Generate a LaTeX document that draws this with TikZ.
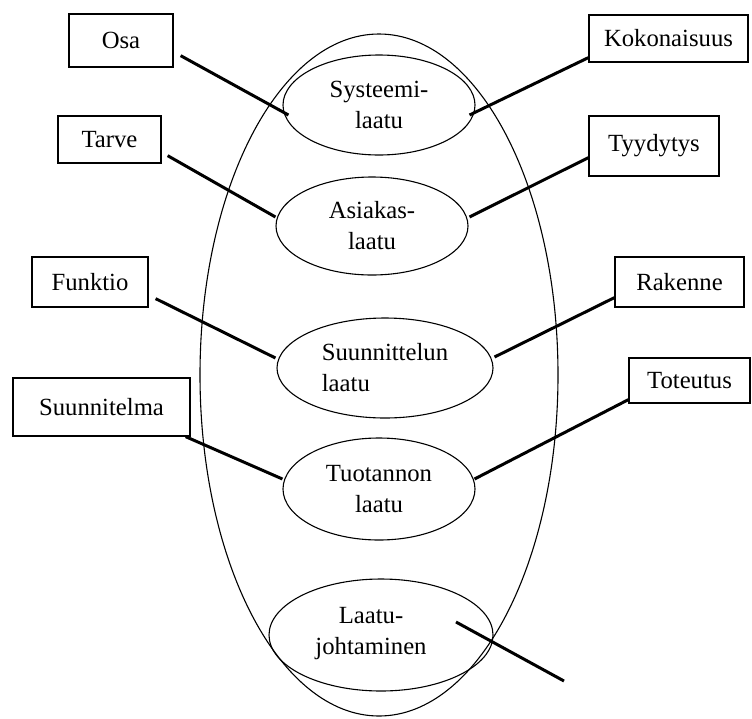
\documentclass[tikz,border=0pt]{standalone}
\usepackage{fontspec}
\setmainfont{Liberation Serif}
\usetikzlibrary{shapes.geometric}
\begin{document}
\begin{tikzpicture}[x=1pt,y=-1pt,
  txt/.style={font=\fontsize{24.7}{31}\selectfont,inner sep=0pt},
  box/.style={draw,line width=1.3pt,txt},
  oval/.style={draw,ellipse,line width=1.1pt,txt,align=center},
  conn/.style={line width=3pt}]
\useasboundingbox (0,0) rectangle (752,718);
% outer ellipse
\node[oval,minimum width=358pt,minimum height=682pt] (outer) at (379,375) {};
% inner ellipses
\node[oval,minimum width=192pt,minimum height=100pt] (sys) at (379,105) {Systeemi-\\laatu};
\node[oval,minimum width=192pt,minimum height=98pt] (asi) at (372,226) {Asiakas-\\laatu};
\node[oval,minimum width=216pt,minimum height=100pt,align=left] (suu) at (385,368) {Suunnittelun\\laatu};
\node[oval,minimum width=192pt,minimum height=102pt] (tuo) at (379,489) {Tuotannon\\laatu};
\node[oval,minimum width=224pt,minimum height=112pt] (lj) at (381,635) {};
\node[txt,align=center] (ljt) at (371,634) {Laatu-\\johtaminen};
% boxes
\node[box,minimum width=104pt,minimum height=53pt] (osa) at (121,40.5) {Osa};
\node[box,minimum width=103pt,minimum height=47pt] (tar) at (109.5,139.5) {Tarve};
\node[box,minimum width=116pt,minimum height=50pt] (fun) at (90,282) {Funktio};
\node[box,minimum width=177pt,minimum height=58pt] (sun) at (101.5,407) {Suunnitelma};
\node[box,minimum width=159pt,minimum height=47pt] (kok) at (668.5,38.5) {Kokonaisuus};
\node[box,minimum width=130pt,minimum height=60pt] (tyy) at (654,146) {Tyydytys};
\node[box,minimum width=129pt,minimum height=50pt] (rak) at (679.5,282) {Rakenne};
\node[box,minimum width=121pt,minimum height=45pt] (tot) at (689.5,380.5) {Toteutus};
% connectors
\draw[conn] ([shift={(7,-12)}]osa.south east) -- ([shift={(6,10)}]sys.west);
\draw[conn] ([shift={(6,-8)}]tar.south east) -- ([shift={(0,-9)}]asi.west);
\draw[conn] ([shift={(7,-9)}]fun.south east) -- ([shift={(-1,-10)}]suu.west);
\draw[conn] ([shift={(-5,0)}]sun.south east) -- ([shift={(0,-10)}]tuo.west);
\draw[conn] ([shift={(0,-5)}]kok.south west) -- ([shift={(-6,10)}]sys.east);
\draw[conn] ([shift={(0,-19)}]tyy.south west) -- ([shift={(1,-9)}]asi.east);
\draw[conn] ([shift={(0,-10)}]rak.south west) -- ([shift={(1,-11)}]suu.east);
\draw[conn] ([shift={(0,-4)}]tot.south west) -- ([shift={(-1,-10)}]tuo.east);
\coordinate (ljend) at (564,681);
\draw[conn] ([shift={(75,-13)}]lj.center) -- (ljend);
\end{tikzpicture}
\end{document}
